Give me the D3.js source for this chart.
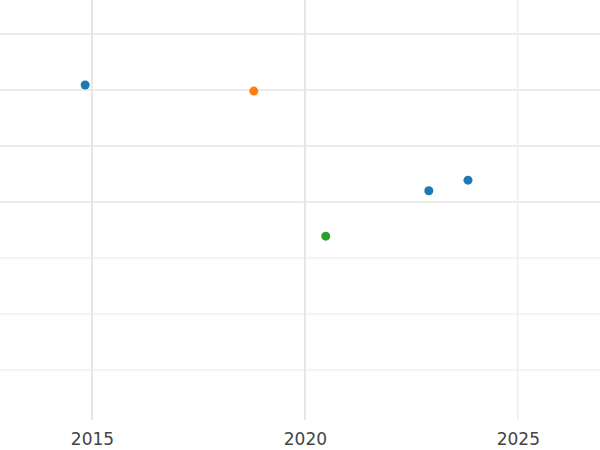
<!doctype html>
<html>
<head>
<meta charset="utf-8">
<script src="https://d3js.org/d3.v7.min.js"></script>
<style>
  body{margin:0;background:#fff;}
  text{font-family:"DejaVu Sans",sans-serif;}
</style>
</head>
<body>
<script>
var years = [2014.84, 2018.80, 2020.49, 2022.91, 2023.83];
var values = [6.09, 5.98, 3.39, 4.20, 4.39];
var colors = ['#1f77b4', '#ff7f0e', '#2ca02c', '#1f77b4', '#1f77b4'];
var xTicks = [2015, 2020, 2025];
var yTicks = [1, 2, 3, 4, 5, 6, 7];

var w = 600, h = 450, plotBottom = 420;
var svg = d3.select('body').append('svg').attr('width', w).attr('height', h);

var x = d3.scaleLinear().domain([2012.84, 2026.93]).range([0, w]);
var y = d3.scaleLinear().domain([0.107, 7.607]).range([plotBottom, 0]);

// grid
svg.selectAll('line.h').data(yTicks).enter().append('line')
  .attr('x1', 0).attr('x2', w)
  .attr('y1', d => y(d)).attr('y2', d => y(d))
  .attr('stroke', d => d >= 4 ? '#e6e6e6' : '#f0f0f0').attr('stroke-width', 1.3);
svg.selectAll('line.v').data(xTicks).enter().append('line')
  .attr('y1', 0).attr('y2', plotBottom)
  .attr('x1', d => x(d)).attr('x2', d => x(d))
  .attr('stroke', d => d < 2025 ? '#e6e6e6' : '#f0f0f0').attr('stroke-width', 2);

// x axis labels
var xAxis = d3.axisBottom(x).tickValues(xTicks).tickFormat(d3.format('d')).tickSize(0).tickPadding(13);
var g = svg.append('g').attr('transform', 'translate(0,' + plotBottom + ')').call(xAxis);
g.select('.domain').remove();
g.selectAll('text').attr('font-size', 17).attr('fill', '#444');

// points
svg.selectAll('circle').data(years).enter().append('circle')
  .attr('cx', d => x(d)).attr('cy', (d, i) => y(values[i]))
  .attr('r', 4.5).attr('fill', (d, i) => colors[i]);
</script>
</body>
</html>
